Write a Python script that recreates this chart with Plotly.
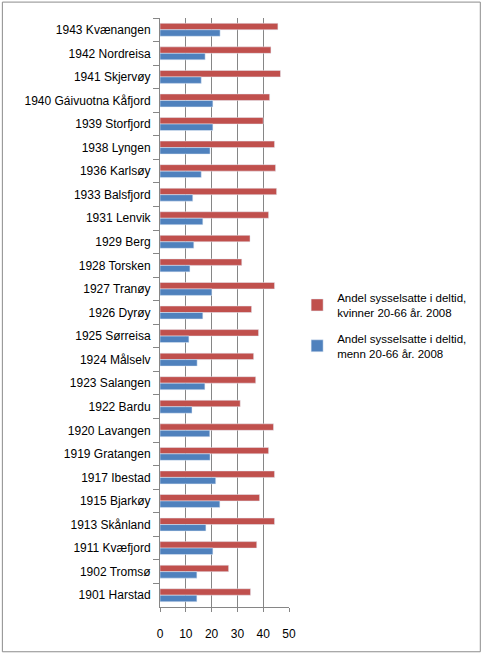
import plotly.graph_objects as go

# categories listed top to bottom as in the chart
kommuner = ['1943 Kvænangen', '1942 Nordreisa', '1941 Skjervøy', '1940 Gáivuotna Kåfjord',
            '1939 Storfjord', '1938 Lyngen', '1936 Karlsøy', '1933 Balsfjord', '1931 Lenvik',
            '1929 Berg', '1928 Torsken', '1927 Tranøy', '1926 Dyrøy', '1925 Sørreisa',
            '1924 Målselv', '1923 Salangen', '1922 Bardu', '1920 Lavangen', '1919 Gratangen',
            '1917 Ibestad', '1915 Bjarkøy', '1913 Skånland', '1911 Kvæfjord', '1902 Tromsø',
            '1901 Harstad']
kvinner = [45.7, 43.0, 46.7, 42.5, 40.0, 44.4, 44.8, 45.2, 42.1, 34.9, 31.7, 44.4, 35.5,
           38.2, 36.3, 37.1, 31.1, 44.0, 42.1, 44.4, 38.6, 44.4, 37.5, 26.6, 35.1]
menn = [23.3, 17.5, 16.0, 20.5, 20.5, 19.4, 16.0, 12.7, 16.6, 13.1, 11.6, 20.1, 16.6,
        11.2, 14.4, 17.4, 12.4, 19.3, 19.4, 21.6, 23.2, 17.8, 20.5, 14.3, 14.3]

RED = '#C0504D'
BLUE = '#4F81BD'
GRID = '#868686'

fig = go.Figure()
fig.add_trace(go.Bar(y=kommuner, x=kvinner, orientation='h', marker_color=RED,
                     legendgroup='k',
                     name='Andel sysselsatte i deltid,<br>kvinner 20-66 år. 2008'))
fig.add_trace(go.Bar(y=kommuner, x=menn, orientation='h', marker_color=BLUE,
                     legendgroup='m',
                     name='Andel sysselsatte i deltid,<br>menn 20-66 år. 2008'))

fig.update_layout(
    width=484, height=655,
    margin=dict(l=160, r=195, t=18, b=48),
    barmode='group', bargap=0.45, bargroupgap=0,
    plot_bgcolor='white', paper_bgcolor='white',
    font=dict(family='Liberation Sans, Arial, sans-serif', size=12, color='black'),
    legend=dict(x=1.063, y=0.478, yanchor='middle', xanchor='left',
                font=dict(size=11.5), itemwidth=30, traceorder='grouped',
                tracegroupgap=8),
    shapes=[dict(type='rect', xref='paper', yref='paper',
                 x0=-1.222, x1=2.483, y0=-0.076, y1=1.027,
                 line=dict(color='#8c8c8c', width=1))],
)
fig.update_xaxes(range=[0, 50], dtick=10, showgrid=True, gridcolor=GRID, gridwidth=1,
                 showline=True, linecolor=GRID, ticks='outside', ticklen=4,
                 tickcolor=GRID, ticklabelstandoff=12, zeroline=False, fixedrange=True)
fig.update_yaxes(autorange='reversed', showline=True, linecolor=GRID, ticks='outside',
                 ticklen=6, tickcolor=GRID, tickson='boundaries', ticklabelstandoff=6,
                 fixedrange=True)

fig.write_html("out.html", config={'displayModeBar': False},
               post_script="document.body.style.margin='0';")
